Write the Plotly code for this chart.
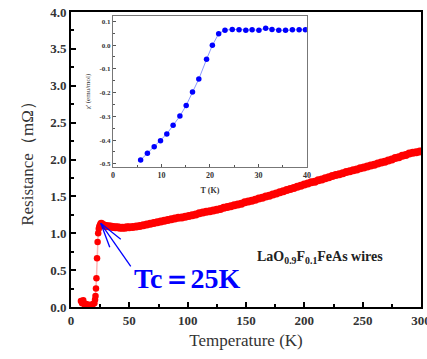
import plotly.graph_objects as go

# ---- main resistance data ----
t_low = [8.5, 9.5, 10.5, 11.2, 12, 13, 14, 15, 16, 17, 18, 19, 20, 20.6, 21.0, 21.4, 21.8, 22.3, 22.8, 23.3, 23.8, 24.3, 24.8, 25.4]
r_low = [0.08, 0.05, 0.09, 0.04, 0.03, 0.04, 0.03, 0.02, 0.03, 0.02, 0.03, 0.04, 0.05, 0.10, 0.15, 0.25, 0.39, 0.66, 0.88, 1.00, 1.06, 1.09, 1.11, 1.12]
t_norm = [26, 28, 30, 32, 34, 36, 38, 40, 42, 44, 46, 48, 50, 53, 56, 59, 62, 65, 68, 71, 74, 77, 80, 83, 86,
          89, 92, 95, 98, 101, 104, 107, 110, 113, 116, 119, 122, 125, 128, 131, 134, 137, 140, 143, 146,
          149, 152, 155, 158, 161, 164, 167, 170, 173, 176, 179, 182, 185, 188, 191, 194, 197, 200, 203,
          206, 209, 212, 215, 218, 221, 224, 227, 230, 233, 236, 239, 242, 245, 248, 251, 254, 257, 260,
          263, 266, 269, 272, 275, 278, 281, 284, 287, 290, 293, 296, 299]
r_norm = [1.13, 1.11, 1.10, 1.095, 1.09, 1.085, 1.08, 1.08, 1.075, 1.075, 1.075, 1.08, 1.08, 1.085, 1.09,
          1.10, 1.11, 1.12, 1.13, 1.14, 1.15, 1.16, 1.17, 1.18, 1.19, 1.20, 1.21, 1.215, 1.225, 1.235,
          1.245, 1.255, 1.27, 1.28, 1.29, 1.30, 1.31, 1.32, 1.33, 1.345, 1.355, 1.365, 1.38, 1.39, 1.40,
          1.42, 1.43, 1.44, 1.455, 1.47, 1.48, 1.50, 1.51, 1.525, 1.54, 1.555, 1.57, 1.585, 1.60, 1.615,
          1.63, 1.645, 1.66, 1.675, 1.69, 1.70, 1.72, 1.73, 1.745, 1.76, 1.775, 1.79, 1.80, 1.815, 1.83,
          1.84, 1.855, 1.865, 1.88, 1.89, 1.905, 1.92, 1.93, 1.945, 1.96, 1.97, 1.985, 2.00, 2.02, 2.03,
          2.05, 2.06, 2.08, 2.09, 2.10, 2.11]

# ---- inset susceptibility data ----
t_chi = [5.7, 7.1, 8.5, 9.8, 11.1, 12.4, 13.8, 15.1, 16.4, 17.7, 19.3, 20.5, 21.8, 23.1, 24.6, 26.0,
         27.4, 28.7, 30.1, 31.5, 32.8, 34.2, 35.6, 37.0, 38.4, 39.7]
chi = [-0.484, -0.456, -0.428, -0.403, -0.374, -0.338, -0.299, -0.254, -0.198, -0.143, -0.060, -0.001,
       0.048, 0.063, 0.066, 0.065, 0.063, 0.065, 0.063, 0.071, 0.066, 0.063, 0.062, 0.065, 0.065, 0.065]

main_xticks = [0, 50, 100, 150, 200, 250, 300]
main_yticks = [0.0, 0.5, 1.0, 1.5, 2.0, 2.5, 3.0, 3.5, 4.0]
inset_xticks = [0, 10, 20, 30, 40]
inset_yticks = [0.1, 0.0, -0.1, -0.2, -0.3, -0.4, -0.5]

tc_T, tc_R = 25.5, 1.135

SERIF = "Liberation Serif, Times New Roman, serif"

# plot-area geometry (pixels) used to place texts
L, R, T, B = 71, 6, 12, 52
PW, PH = 427 - L - R, 359 - T - B

fig = go.Figure()
fig.add_trace(go.Scatter(x=t_low, y=r_low, mode="lines+markers",
                         line=dict(color="rgba(255,90,90,0.45)", width=1.5),
                         marker=dict(color="#ff0000", size=6.5), showlegend=False,
                         xaxis="x", yaxis="y"))
fig.add_trace(go.Scatter(x=t_norm, y=r_norm, mode="markers",
                         marker=dict(color="#ff0000", size=8), showlegend=False,
                         xaxis="x", yaxis="y"))
fig.add_trace(go.Scatter(x=t_chi, y=chi, mode="lines+markers",
                         line=dict(color="rgba(90,110,255,0.7)", width=1),
                         marker=dict(color="#0000ff", size=5.5), showlegend=False,
                         xaxis="x2", yaxis="y2"))

tickfont_main = dict(family=SERIF, size=13, color="#333333")
fig.update_layout(
    width=427, height=359,
    font=dict(family=SERIF, color="#333333"),
    margin=dict(l=L, r=R, t=T, b=B, autoexpand=False),
    paper_bgcolor="white", plot_bgcolor="white",
    xaxis=dict(range=[0, 300], tickvals=main_xticks, ticktext=[f"<b>{v}</b>" for v in main_xticks],
               ticks="inside", ticklen=5, tickwidth=2, tickcolor="black",
               minor=dict(ticks="inside", ticklen=3, dtick=25, tickcolor="black", tickwidth=1.5),
               showline=True, linewidth=2, linecolor="black", mirror=True,
               showgrid=False, zeroline=False, tickfont=tickfont_main, automargin=False,
               ticklabeloverflow="allow",
               title=dict(text="Temperature (K)", font=dict(family=SERIF, size=17, color="#333333"),
                          standoff=8)),
    yaxis=dict(range=[0, 4.0], tickvals=main_yticks, ticktext=[f"<b>{v:.1f}</b>" for v in main_yticks],
               ticks="inside", ticklen=5, tickwidth=2, tickcolor="black",
               minor=dict(ticks="inside", ticklen=3, dtick=0.25, tickcolor="black", tickwidth=1.5),
               showline=True, linewidth=2, linecolor="black", mirror=True,
               showgrid=False, zeroline=False, tickfont=tickfont_main, automargin=False,
               title=dict(text="Resistance（mΩ）", font=dict(family=SERIF, size=17, color="#333333"),
                          standoff=12)),
    xaxis2=dict(domain=[0.12, 0.674], anchor="y2", range=[0, 40],
                tickvals=inset_xticks, ticktext=[f"<b>{v}</b>" for v in inset_xticks],
                ticks="inside", ticklen=3, tickcolor="#555", tickwidth=1,
                minor=dict(ticks="inside", ticklen=2, dtick=5, tickcolor="#555"),
                showline=True, linewidth=1.2, linecolor="#777", mirror=True,
                showgrid=False, zeroline=False,
                tickfont=dict(family=SERIF, size=8, color="#333"),
                title=dict(text="<b>T (K)</b>", font=dict(family=SERIF, size=8, color="#333"), standoff=8)),
    yaxis2=dict(domain=[0.475, 0.986], anchor="x2", range=[-0.513, 0.122],
                tickvals=inset_yticks, ticktext=[f"<b>{v:.1f}</b>" for v in inset_yticks],
                ticks="inside", ticklen=3, tickcolor="#555", tickwidth=1,
                minor=dict(ticks="inside", ticklen=2, dtick=0.05, tickcolor="#555"),
                showline=True, linewidth=1.2, linecolor="#777", mirror=True,
                showgrid=False, zeroline=False,
                tickfont=dict(family=SERIF, size=7, color="#333"),
                title=dict(text="χ' (emu/mol)", font=dict(family=SERIF, size=7, color="#333"), standoff=7)),
)

# Arrow lines pointing to Tc (anchored at the peak data point, pixel offsets)
for dx, dy in [(30, -43), (9, -24), (20, -16)]:
    fig.add_shape(type="line", xref="x", yref="y", xsizemode="pixel", ysizemode="pixel",
                  xanchor=tc_T, yanchor=tc_R, x0=0, y0=0, x1=dx, y1=dy,
                  line=dict(color="#0000ff", width=1.3))

fig.add_annotation(x=(187 - L) / PW, y=(359 - B - 278) / PH, xref="x domain", yref="y domain",
                   xanchor="center", yanchor="middle",
                   text="<b>Tc＝25K</b>", showarrow=False,
                   font=dict(family=SERIF, size=28, color="#0000ff"))

fig.add_annotation(x=(320 - L) / PW, y=(359 - B - 257) / PH, xref="x domain", yref="y domain",
                   xanchor="center", yanchor="middle",
                   text="<b>LaO<sub>0.9</sub>F<sub>0.1</sub>FeAs wires</b>", showarrow=False,
                   font=dict(family=SERIF, size=14, color="#222"))

fig.write_html("out.html")
